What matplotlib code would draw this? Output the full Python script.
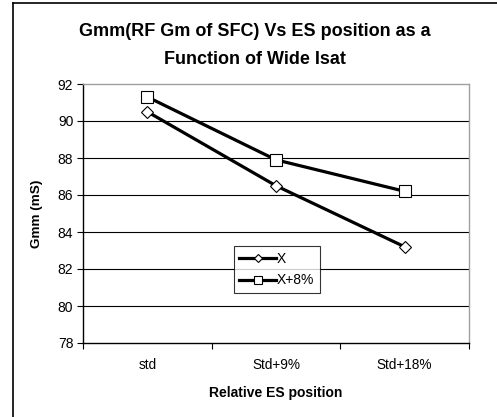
import matplotlib
matplotlib.use("Agg")
import matplotlib.pyplot as plt
from matplotlib.lines import Line2D

plt.rcParams['font.family'] = ['Liberation Sans', 'DejaVu Sans']

categories = ["std", "Std+9%", "Std+18%"]
series_x = [90.5, 86.5, 83.2]
series_x8 = [91.3, 87.9, 86.2]
yticks = [78, 80, 82, 84, 86, 88, 90, 92]

fig = plt.figure(figsize=(4.97, 4.17), dpi=100)
ax = fig.add_axes([83/497, 1 - 343/417, (469 - 83)/497, (343 - 84)/417])

xs = list(range(len(categories)))
ax.plot(xs, series_x, color='black', lw=2.3, marker='D', ms=6.5,
        mfc='white', mec='black', mew=0.8, label='X', zorder=3)
ax.plot(xs, series_x8, color='black', lw=2.3, marker='s', ms=8.5,
        mfc='white', mec='black', mew=0.8, label='X+8%', zorder=3)

ax.set_xlim(-0.5, len(categories) - 0.5)
ax.set_ylim(78, 92)
ax.set_yticks(yticks)
ax.set_yticklabels([str(v) for v in yticks], fontsize=10)
ax.set_xticks(xs)
ax.set_xticklabels(categories, fontsize=9.8)
ax.set_xticks([-0.5, 0.5, 1.5, 2.5], minor=True)
ax.tick_params(axis='x', which='major', length=0, pad=11)
ax.tick_params(axis='x', which='minor', length=4, width=0.8, direction='out')
ax.tick_params(axis='y', length=4, width=0.8, direction='out', pad=3)

for y in yticks[1:-1]:
    ax.axhline(y, color='black', lw=0.8, zorder=1)

ax.spines['left'].set_color('black')
ax.spines['bottom'].set_color('black')
ax.spines['top'].set_color('#a0a0a0')
ax.spines['right'].set_color('#a0a0a0')
for s in ax.spines.values():
    s.set_linewidth(1.0)

ax.set_ylabel("Gmm (mS)", fontsize=9.7, fontweight='bold')
ax.yaxis.set_label_coords(-(83 - 43)/386, 0.5)
ax.set_xlabel("Relative ES position", fontsize=10, fontweight='bold')
ax.xaxis.set_label_coords(0.5, -(386 - 343)/259)

leg = ax.legend(loc='lower left', bbox_to_anchor=(0.391, 0.193), borderaxespad=0,
                fontsize=10, frameon=True, fancybox=False, handlelength=2.6,
                handletextpad=0.1, borderpad=0.4, labelspacing=0.55, markerscale=0.6)
leg.get_frame().set_edgecolor('black')
leg.get_frame().set_linewidth(0.8)

fig.text(255/497, 1 - 31.5/417, "Gmm(RF Gm of SFC) Vs ES position as a",
         ha='center', va='center', fontsize=13, fontweight='bold')
fig.text(255/497, 1 - 60/417, "Function of Wide Isat",
         ha='center', va='center', fontsize=13, fontweight='bold')

fig.add_artist(Line2D([13/497, 13/497], [0, 1 - 3/417], transform=fig.transFigure,
                      color='black', lw=1.2))
fig.add_artist(Line2D([13/497, 1], [1 - 3/417, 1 - 3/417], transform=fig.transFigure,
                      color='black', lw=1.2))

fig.savefig("out.png", dpi=100)
